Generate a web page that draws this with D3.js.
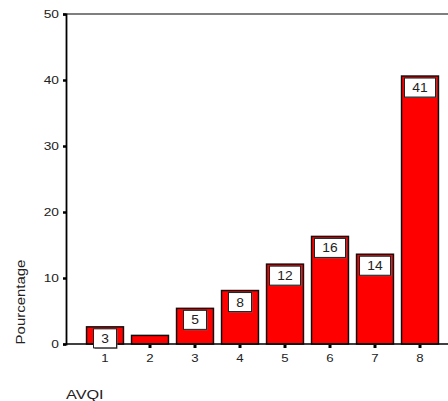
<!DOCTYPE html>
<html><head><meta charset="utf-8">
<script src="https://cdn.jsdelivr.net/npm/d3@7"></script>
<style>body{margin:0;background:#fff}svg{display:block}text{font-family:Arial,"Liberation Sans",sans-serif}</style>
</head><body>
<script>
const categories = ["1","2","3","4","5","6","7","8"];
const values = [2.6, 1.3, 5.4, 8.1, 12.1, 16.3, 13.6, 40.6];
const labels = ["3", "", "5", "8", "12", "16", "14", "41"];
const yTicks = [0, 10, 20, 30, 40, 50];

const W = 448, H = 401;
const svg = d3.select("body").append("svg").attr("width", W).attr("height", H);

function stretch(sel, f) {
  sel.each(function() {
    const w = this.getComputedTextLength();
    d3.select(this).attr("textLength", w * f).attr("lengthAdjust", "spacingAndGlyphs");
  });
}

const y = d3.scaleLinear().domain([0, 50]).range([344, 14]);
const x = d3.scaleBand().domain(categories).range([82.5, 442.5]).paddingInner(0.18).paddingOuter(0.09);

// top frame line
svg.append("line").attr("x1", 66).attr("x2", W).attr("y1", y(50)).attr("y2", y(50)).attr("stroke", "#000").attr("stroke-width", 1.2);

// bars
svg.selectAll("rect.bar").data(values).enter().append("rect")
  .attr("class", "bar")
  .attr("x", (d, i) => x(categories[i]))
  .attr("y", d => y(d))
  .attr("width", x.bandwidth())
  .attr("height", d => y(0) - y(d))
  .attr("fill", "#ff0000")
  .attr("stroke", "#111")
  .attr("stroke-width", 1.5);

// baseline
svg.append("line").attr("x1", 66).attr("x2", W).attr("y1", y(0)).attr("y2", y(0)).attr("stroke", "#000").attr("stroke-width", 1.5);

// y axis
const yAxis = d3.axisLeft(y).tickValues(yTicks).tickSize(3).tickPadding(4);
const gy = svg.append("g").attr("transform", "translate(66,0)").call(yAxis);
gy.select(".domain").attr("stroke", "#000").attr("stroke-width", 1.8);
gy.selectAll(".tick line").attr("stroke", "#000").attr("stroke-width", 2.5);
gy.selectAll(".tick text").attr("font-size", 11).attr("fill", "#222").attr("font-family", "Arial, 'Liberation Sans', sans-serif");
stretch(gy.selectAll(".tick text"), 1.25);

// x axis
const xAxis = d3.axisBottom(x).tickSize(3).tickPadding(6);
const gx = svg.append("g").attr("transform", `translate(0,${y(0)+1})`).call(xAxis);
gx.select(".domain").remove();
gx.selectAll(".tick line").attr("stroke", "#000").attr("stroke-width", 3);
gx.selectAll(".tick text").attr("font-size", 11).attr("fill", "#222").attr("font-family", "Arial, 'Liberation Sans', sans-serif");
stretch(gx.selectAll(".tick text"), 1.2);

// value labels
values.forEach((d, i) => {
  if (labels[i] === "") return;
  const g = svg.append("g").attr("class", "lab");
  const cx = x(categories[i]) + x.bandwidth() / 2;
  const w = labels[i].length > 1 ? 31 : 23;
  const top = y(d) + 2;
  g.append("rect").attr("x", cx - w / 2 + 1).attr("y", top + 1).attr("width", w).attr("height", 19).attr("fill", "#666");
  g.append("rect").attr("x", cx - w / 2).attr("y", top).attr("width", w).attr("height", 19)
    .attr("fill", "#fff").attr("stroke", "#222").attr("stroke-width", 1);
  const t = g.append("text").attr("x", cx).attr("y", top + 14).attr("text-anchor", "middle")
    .attr("font-size", 12).attr("fill", "#222").text(labels[i]);
  stretch(t, 1.15);
});

// axis titles
const yt = svg.append("text").attr("transform", "translate(25,302) rotate(-90)").attr("text-anchor", "middle")
  .attr("font-size", 13).attr("fill", "#222").text("Pourcentage");
stretch(yt, 1.15);
const xt = svg.append("text").attr("x", 66).attr("y", 399).attr("font-size", 13).attr("fill", "#222").text("AVQI");
stretch(xt, 1.25);
</script>
</body></html>
